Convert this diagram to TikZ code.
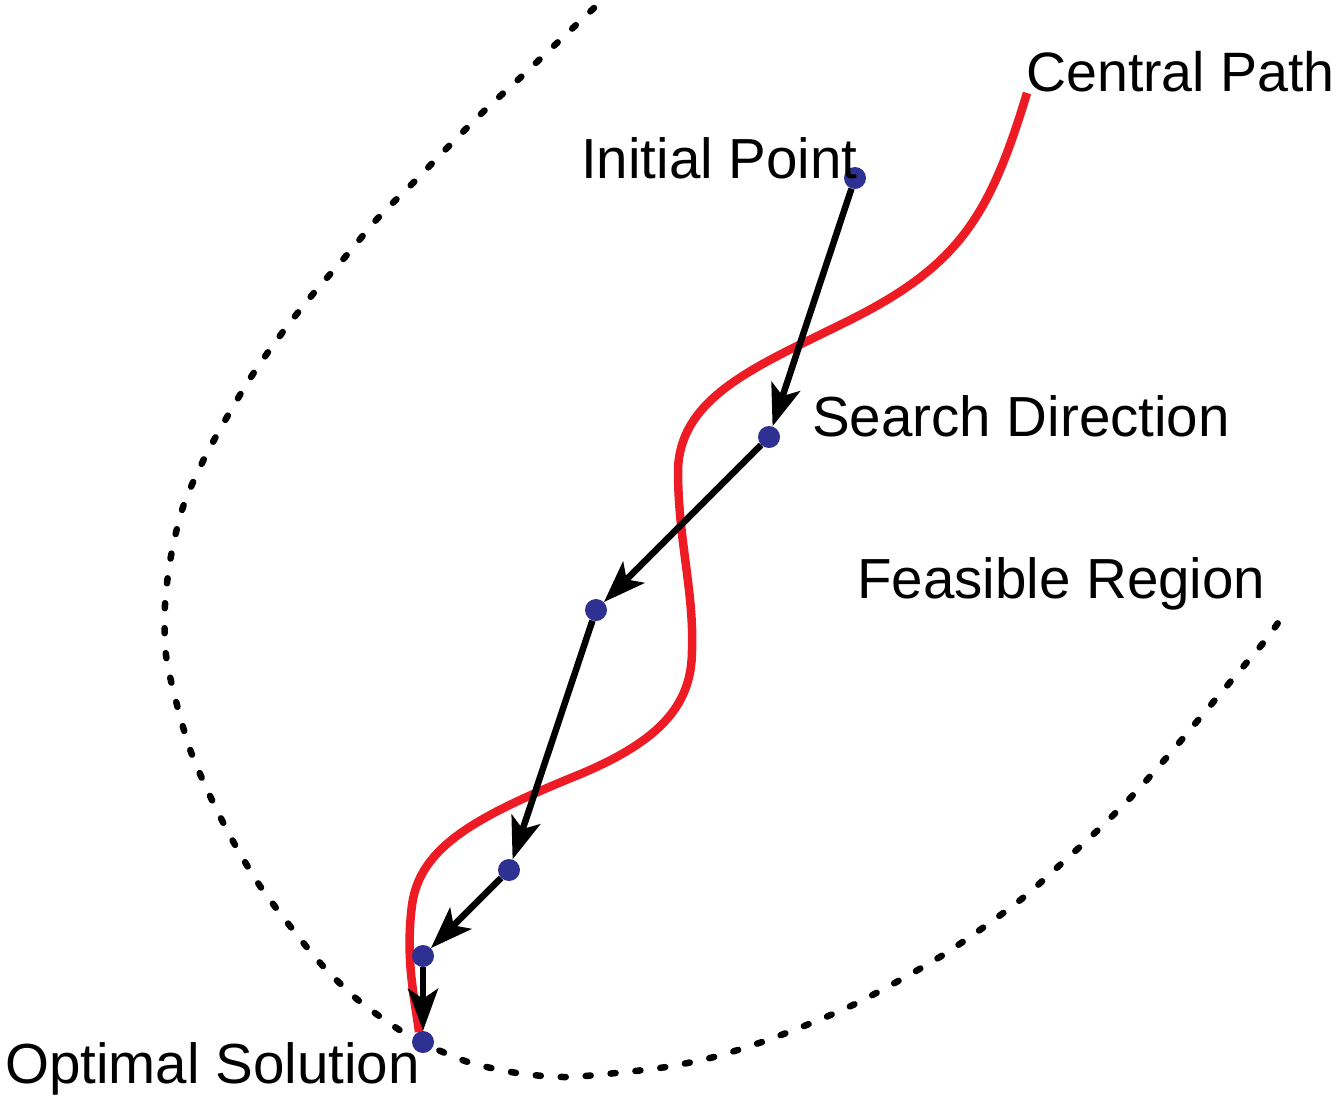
\documentclass[tikz,border=0pt]{standalone}
\usepackage{fontspec}
\setmainfont{Liberation Sans}
\usetikzlibrary{arrows.meta}
\definecolor{pathred}{RGB}{237,28,36}
\definecolor{dotblue}{RGB}{46,49,146}
\begin{document}
\begin{tikzpicture}[x=1pt,y=-1pt,
  pt/.style={circle,fill=dotblue,inner sep=0pt,minimum size=22pt},
  lbl/.style={inner sep=0pt,anchor=base west,font=\fontsize{56.5}{60}\selectfont},
  steparrow/.style={line width=6.5pt,-{Stealth[length=42pt,width=30pt,inset=10pt]}},
  boundary/.style={line width=6.5pt,line cap=round,dash pattern=on 5pt off 20pt},
  central/.style={line width=8.5pt,pathred}]
\useasboundingbox (0,0) rectangle (1338,1098);
% feasible region boundary
\draw[boundary] plot[smooth] coordinates {(594,8) (558,42) (521,77) (483,112) (448,147) (414,182) (378,218) (346,256) (313,294) (282,333) (253,374) (227,417) (203,461) (183,507) (171,556) (165,605) (166,655) (177,705) (191,752) (211,798) (234,843) (260,886) (290,926) (322,965) (358,1000) (398,1029) (423,1043) (468,1062) (517,1073) (565,1077) (616,1073) (666,1067) (714,1057) (762,1042) (809,1024) (855,1004) (900,980) (943,955) (984,927) (1024,897) (1061,864) (1099,829) (1134,794) (1167,757) (1199,719) (1231,681) (1264,642) (1280,620)};
% central path
\draw[central] (1027,93) .. controls (990,215) and (960,265) .. (850,320)
  .. controls (760,365) and (680,395) .. (678,470)
  .. controls (678,540) and (694,590) .. (692,650)
  .. controls (692,705) and (660,740) .. (583,773)
  .. controls (480,815) and (420,845) .. (412,905)
  .. controls (405,960) and (415,1000) .. (419,1032);
% iterates
\node[pt] (p0) at (855,178) {};
\node[pt] (p1) at (769,437) {};
\node[pt] (p2) at (596,610) {};
\node[pt] (p3) at (509,870) {};
\node[pt] (p4) at (423,956) {};
\node[pt] (p5) at (423,1042) {};
\draw[steparrow] (p0) -- (p1);
\draw[steparrow] (p1) -- (p2);
\draw[steparrow] (p2) -- (p3);
\draw[steparrow] (p3) -- (p4);
\draw[steparrow] (p4) -- (p5);
% labels
\node[lbl,font=\fontsize{55.5}{60}\selectfont] (lc) at (1026,91) {Central Path};
\node[lbl] (li) at (581,178) {Initial Point};
\node[lbl] (ls) at (812,436) {Search Direction};
\node[lbl] (lf) at (857,598) {Feasible Region};
\node[lbl] (lo) at (5,1083) {Optimal Solution};
\end{tikzpicture}
\end{document}
